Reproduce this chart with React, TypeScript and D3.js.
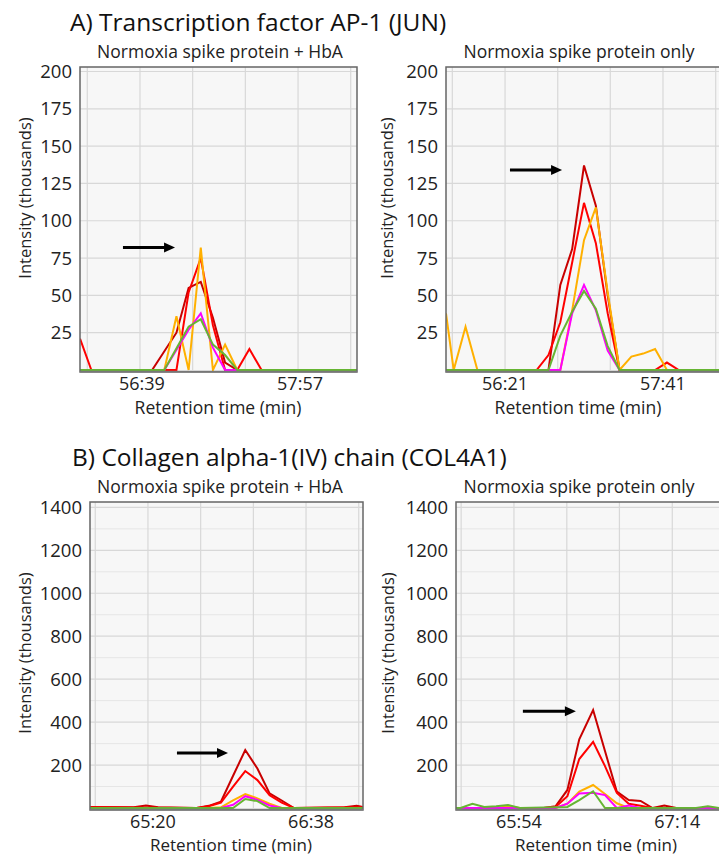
import React from 'react';
import * as d3 from 'd3';

// times are in seconds of retention time, values in thousands
const seriesColors = ['#c80000', '#ff0000', '#ffb000', '#ff00ff', '#66b532'];

// A) JUN, spike protein + HbA
const junHbaDarkRed = [[3369.4, 0], [3405, 0], [3417, 25], [3423, 55], [3429, 59], [3435, 35], [3441, 5], [3447, 0], [3506.1, 0]];
const junHbaRed = [[3369.4, 21], [3375, 0], [3417, 0], [3423, 52], [3429, 75], [3435, 30], [3441, 0], [3447, 0], [3453, 14], [3459, 0], [3506.1, 0]];
const junHbaOrange = [[3369.4, 0], [3411, 0], [3417, 36], [3423, 0], [3429, 82], [3435, 0], [3441, 17], [3447, 0], [3506.1, 0]];
const junHbaMagenta = [[3369.4, 0], [3411, 0], [3423, 27], [3429, 38], [3435, 15], [3441, 0], [3506.1, 0]];
const junHbaGreen = [[3369.4, 0], [3411, 0], [3423, 29], [3429, 34], [3435, 17], [3441, 10], [3447, 0], [3506.1, 0]];

// A) JUN, spike protein only
const junOnlyDarkRed = [[3351.1, 0], [3403, 0], [3409, 57], [3415, 81], [3421, 137], [3427, 110], [3433, 50], [3439, 0], [3491.4, 0]];
const junOnlyRed = [[3351.1, 0], [3397, 0], [3403, 10], [3409, 32], [3415, 72], [3421, 112], [3427, 85], [3433, 38], [3439, 0], [3457, 0], [3463, 5], [3469, 0], [3491.4, 0]];
const junOnlyOrange = [[3351.1, 38], [3355, 0], [3361, 29], [3367, 0], [3409, 0], [3415, 40], [3421, 87], [3427, 109], [3433, 52], [3439, 0], [3445, 9], [3451, 11], [3457, 14], [3463, 0], [3491.4, 0]];
const junOnlyMagenta = [[3351.1, 0], [3409, 0], [3415, 38], [3421, 57], [3427, 40], [3433, 13], [3439, 0], [3491.4, 0]];
const junOnlyGreen = [[3351.1, 0], [3403, 0], [3409, 23], [3415, 39], [3421, 53], [3427, 41], [3433, 16], [3439, 0], [3491.4, 0]];

// B) COL4A1, spike protein + HbA
const colHbaDarkRed = [[3891.4, 5], [3913, 3], [3919, 12], [3925, 3], [3944, 0], [3950, 10], [3956, 29], [3962, 150], [3968, 270], [3974, 184], [3980, 68], [3986, 35], [3992, 0], [4017, 3], [4023, 10], [4026.1, 5]];
const colHbaRed = [[3891.4, 3], [3944, 0], [3950, 8], [3956, 25], [3962, 100], [3968, 172], [3974, 130], [3980, 60], [3986, 25], [3992, 0], [4026.1, 3]];
const colHbaOrange = [[3891.4, 0], [3950, 0], [3956, 3], [3962, 35], [3968, 65], [3974, 45], [3980, 20], [3986, 0], [4026.1, 0]];
const colHbaMagenta = [[3891.4, 0], [3956, 0], [3962, 15], [3968, 55], [3974, 38], [3980, 12], [3986, 0], [4026.1, 0]];
const colHbaGreen = [[3891.4, 0], [3962, 0], [3968, 42], [3974, 32], [3980, 0], [4026.1, 0]];

// B) COL4A1, spike protein only
const colOnlyDarkRed = [[3924.7, 0], [3969, 0], [3975, 8], [3981, 84], [3987, 320], [3994, 456], [4000, 265], [4006, 76], [4012, 37], [4018, 33], [4024, 0], [4030, 12], [4036, 0], [4064.7, 0]];
const colOnlyRed = [[3924.7, 0], [3969, 0], [3975, 5], [3981, 55], [3987, 228], [3994, 308], [4000, 195], [4006, 70], [4012, 20], [4018, 10], [4024, 0], [4064.7, 0]];
const colOnlyOrange = [[3924.7, 0], [3945, 0], [3951, 8], [3957, 0], [3975, 0], [3981, 20], [3987, 76], [3994, 107], [4000, 65], [4006, 22], [4012, 0], [4064.7, 0]];
const colOnlyMagenta = [[3924.7, 0], [3975, 0], [3981, 20], [3987, 68], [3994, 71], [4000, 60], [4006, 0], [4012, 12], [4018, 0], [4064.7, 0]];
const colOnlyGreen = [[3924.7, 0], [3927, 0], [3933, 20], [3939, 5], [3945, 8], [3951, 14], [3957, 0], [3981, 5], [3987, 37], [3994, 78], [4000, 0], [4046, 0], [4052, 8], [4058, 0], [4064.7, 0]];

// axis ticks
const junYTicks = [25, 50, 75, 100, 125, 150, 175, 200];
const colYTicks = [200, 400, 600, 800, 1000, 1200, 1400];
const colYMinor = [100, 300, 500, 700, 900, 1100, 1300];
const junHbaGrid = [3373, 3399, 3425, 3451, 3477, 3503];
const junHbaLabels = [[3399, '56:39'], [3477, '57:57']];
const junOnlyGrid = [3354.3, 3381, 3407.7, 3434.3, 3461, 3487.7];
const junOnlyLabels = [[3381, '56:21'], [3461, '57:41']];
const colHbaGrid = [3894, 3920, 3946, 3972, 3998, 4024];
const colHbaLabels = [[3920, '65:20'], [3998, '66:38']];
const colOnlyGrid = [3927.3, 3954, 3980.7, 4007.3, 4034, 4060.7];
const colOnlyLabels = [[3954, '65:54'], [4034, '67:14']];

// arrows: [t0, t1, value]
const junHbaArrow = [3390.6, 3416.3, 82];
const junOnlyArrow = [3383.5, 3409.9, 134];
const colHbaArrow = [3934.3, 3959.5, 256];
const colOnlyArrow = [3958.5, 3985.3, 451];

const FONT = '"Open Sans", "Noto Sans", sans-serif';

const panels = [
  { id: 'a1', title: 'Normoxia spike protein + HbA', left: 80, right: 357, top: 67, bottom: 370, xDomain: [3369.4, 3506.1], yMax: 203,
    series: [junHbaDarkRed, junHbaRed, junHbaOrange, junHbaMagenta, junHbaGreen], grid: junHbaGrid, labels: junHbaLabels,
    yTicks: junYTicks, yMinor: [], arrow: junHbaArrow, titleX: 220, subY: 57.5, tickY: 390, tickSize: 18, axisTitleX: 218, axisTitleY: 414, axisSize: 17.5, yTitleX: 31, yTitleY: 198, labelDx: 2 },
  { id: 'a2', title: 'Normoxia spike protein only', left: 446, right: 723, top: 67, bottom: 370, xDomain: [3351.1, 3491.4], yMax: 203,
    series: [junOnlyDarkRed, junOnlyRed, junOnlyOrange, junOnlyMagenta, junOnlyGreen], grid: junOnlyGrid, labels: junOnlyLabels,
    yTicks: junYTicks, yMinor: [], arrow: junOnlyArrow, titleX: 579, subY: 57.5, tickY: 390, tickSize: 18, axisTitleX: 578, axisTitleY: 414, axisSize: 17.5, yTitleX: 393, yTitleY: 198, labelDx: 0 },
  { id: 'b1', title: 'Normoxia spike protein + HbA', left: 90, right: 363, top: 502, bottom: 808, xDomain: [3891.4, 4026.1], yMax: 1425,
    series: [colHbaDarkRed, colHbaRed, colHbaOrange, colHbaMagenta, colHbaGreen], grid: colHbaGrid, labels: colHbaLabels,
    yTicks: colYTicks, yMinor: colYMinor, arrow: colHbaArrow, titleX: 220, subY: 493, tickY: 827.5, tickSize: 18, axisTitleX: 231, axisTitleY: 851, axisSize: 17, yTitleX: 31, yTitleY: 653, labelDx: 5 },
  { id: 'b2', title: 'Normoxia spike protein only', left: 456, right: 733, top: 502, bottom: 808, xDomain: [3924.7, 4064.7], yMax: 1425,
    series: [colOnlyDarkRed, colOnlyRed, colOnlyOrange, colOnlyMagenta, colOnlyGreen], grid: colOnlyGrid, labels: colOnlyLabels,
    yTicks: colYTicks, yMinor: colYMinor, arrow: colOnlyArrow, titleX: 579, subY: 493, tickY: 827.5, tickSize: 18, axisTitleX: 596, axisTitleY: 851, axisSize: 17, yTitleX: 394, yTitleY: 653, labelDx: 5 },
];

function Panel({ p }) {
  const x = d3.scaleLinear().domain(p.xDomain).range([p.left, p.right]);
  const y = d3.scaleLinear().domain([0, p.yMax]).range([p.bottom, p.top]);
  const line = d3.line().x(d => x(d[0])).y(d => y(d[1]));
  const [a0, a1, av] = p.arrow;
  const ay = y(av);
  const ax1 = x(a1);

  return (
    <g>
      <defs>
        <clipPath id={`clip-${p.id}`}>
          <rect x={p.left} y={p.top} width={p.right - p.left} height={p.bottom - p.top + 1} />
        </clipPath>
      </defs>
      <text x={p.titleX} y={p.subY} textAnchor="middle" fontSize={17.5} fill="#222">{p.title}</text>
      <rect x={p.left} y={p.top} width={p.right - p.left} height={p.bottom - p.top + 2} fill="#f7f7f7" />
      {p.yMinor.map(v => (
        <line key={'m' + v} x1={p.left} x2={p.right} y1={y(v)} y2={y(v)} stroke="#e6e6e6" strokeWidth={1} />
      ))}
      {p.yTicks.map(v => (
        <line key={'g' + v} x1={p.left} x2={p.right} y1={y(v)} y2={y(v)} stroke="#d8d8d8" strokeWidth={1.2} />
      ))}
      {p.grid.map(t => (
        <line key={'v' + t} x1={x(t)} x2={x(t)} y1={p.top} y2={p.bottom} stroke="#d8d8d8" strokeWidth={1.2} />
      ))}
      <g clipPath={`url(#clip-${p.id})`}>
        {p.series.map((s, i) => (
          <path key={i} d={line(s)} fill="none" stroke={seriesColors[i]} strokeWidth={2} strokeLinejoin="miter" />
        ))}
      </g>
      <rect x={p.left} y={p.top} width={p.right - p.left} height={p.bottom - p.top + 2} fill="none" stroke="#666" strokeWidth={1.5} />
      <line x1={p.left} x2={p.right} y1={p.bottom + 1.5} y2={p.bottom + 1.5} stroke="#777" strokeWidth={1.5} />
      {p.yTicks.map(v => (
        <text key={'yl' + v} x={p.left - 8} y={y(v) + 6.5} textAnchor="end" fontSize={18.5} fill="#222">{v}</text>
      ))}
      {p.labels.map(([t, s]) => (
        <text key={'xl' + t} x={x(t) + p.labelDx} y={p.tickY} textAnchor="middle" fontSize={p.tickSize} fill="#222">{s}</text>
      ))}
      <text x={p.axisTitleX} y={p.axisTitleY} textAnchor="middle" fontSize={p.axisSize} fill="#222">Retention time (min)</text>
      <text transform={`translate(${p.yTitleX},${p.yTitleY}) rotate(-90)`} textAnchor="middle" fontSize={16.5} fill="#222">Intensity (thousands)</text>
      <line x1={x(a0)} x2={ax1 - 9} y1={ay} y2={ay} stroke="#000" strokeWidth={3} />
      <path d={`M${ax1},${ay} L${ax1 - 11},${ay - 5} L${ax1 - 11},${ay + 5} Z`} fill="#000" />
    </g>
  );
}

export default function App() {
  return (
    <svg width={719} height={856} style={{ position: 'absolute', left: 0, top: 0, background: '#fff' }} fontFamily={FONT}>
      <text x={70} y={31} fontSize={24.5} fill="#111">A) Transcription factor AP-1 (JUN)</text>
      <text x={72} y={466} fontSize={24.5} fill="#111">B) Collagen alpha-1(IV) chain (COL4A1)</text>
      {panels.map(p => <Panel key={p.id} p={p} />)}
    </svg>
  );
}
